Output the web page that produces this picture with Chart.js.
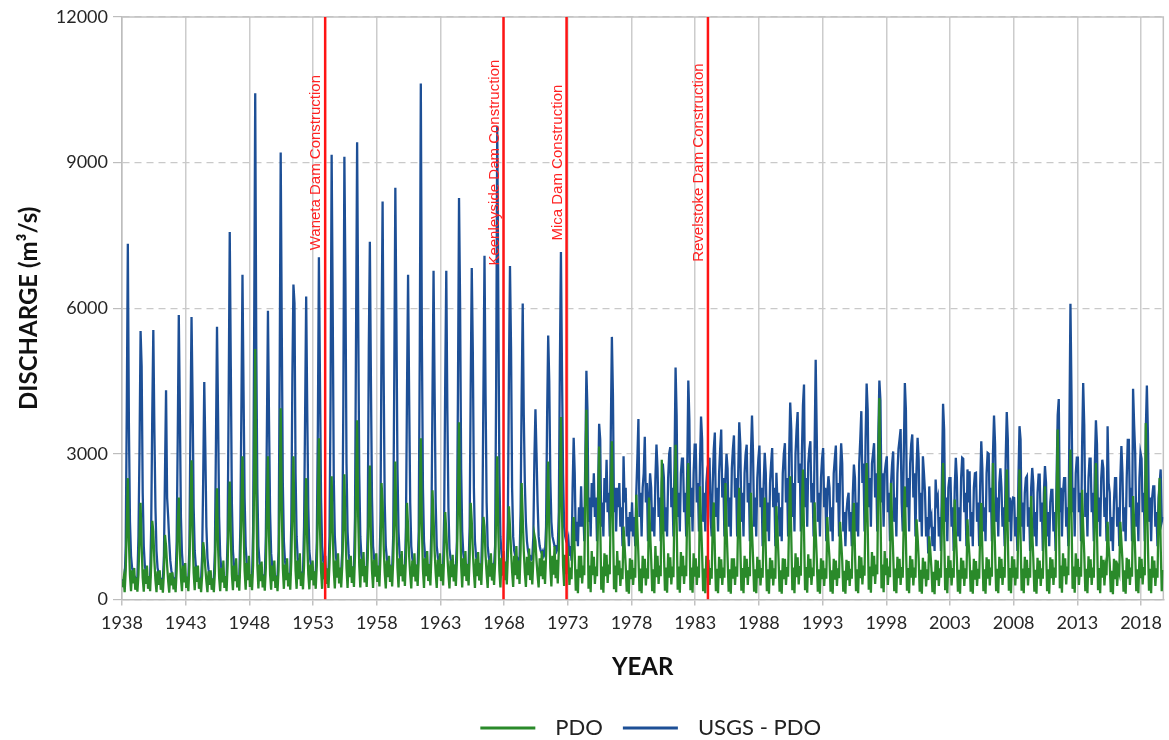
<!DOCTYPE html>
<html>
<head>
<meta charset="utf-8">
<title>Discharge 1938-2019</title>
<script src="https://cdn.jsdelivr.net/npm/chart.js@4.4.1/dist/chart.umd.min.js"></script>
<style>
  html, body { margin: 0; padding: 0; background: #ffffff; }
  #wrap { width: 1169px; height: 740px; }
</style>
</head>
<body>
<div id="wrap"><canvas id="chart" width="1169" height="740"></canvas></div>
<script>
// ---- data -------------------------------------------------------------
const firstYear = 1938;
const seriesLabels = ['PDO', 'USGS - PDO'];
const yearTicks = [1938, 1943, 1948, 1953, 1958, 1963, 1968, 1973, 1978, 1983, 1988, 1993, 1998, 2003, 2008, 2013, 2018];
const dischargeTicks = [0, 3000, 6000, 9000, 12000];
const damYears = [1953.95, 1967.95, 1972.9, 1984.0];
const damLabels = ['Waneta Dam Construction', 'Keenleyside Dam Construction', 'Mica Dam Construction', 'Revelstoke Dam Construction'];

// monthly discharge (m3/s), one row per year, Jan..Dec
const pdoMonthly = [
  [250, 420, 150, 600, 1500, 2500, 1200, 500, 170, 600, 330, 650],   // 1938
  [200, 450, 160, 500, 1300, 1990, 1100, 450, 160, 620, 320, 700],
  [220, 480, 170, 700, 1620, 1400, 800, 400, 150, 580, 300, 600],
  [200, 420, 140, 550, 1330, 1100, 700, 380, 140, 550, 290, 560],
  [210, 430, 150, 600, 1500, 2100, 1000, 450, 170, 700, 350, 750],
  [240, 470, 170, 700, 1800, 2870, 1400, 550, 190, 680, 360, 700],
  [220, 440, 150, 500, 1180, 1000, 650, 380, 150, 580, 300, 600],
  [200, 430, 150, 550, 1500, 2290, 1100, 450, 170, 650, 350, 800],
  [240, 480, 170, 700, 1700, 2430, 1300, 520, 190, 700, 380, 850],
  [250, 500, 180, 800, 1900, 2950, 1500, 600, 200, 750, 400, 900],
  [260, 520, 190, 700, 2500, 5160, 2200, 700, 230, 720, 380, 780],   // 1948
  [250, 500, 180, 650, 1800, 2950, 1300, 520, 200, 700, 380, 800],
  [240, 480, 170, 600, 2000, 3940, 1900, 650, 220, 720, 400, 850],
  [270, 540, 200, 800, 1900, 2950, 1500, 600, 220, 800, 420, 950],
  [280, 550, 210, 700, 1600, 2500, 1200, 520, 210, 720, 400, 800],
  [290, 580, 220, 700, 1800, 3320, 1500, 600, 220, 760, 420, 900],
  [320, 640, 240, 750, 1500, 2540, 1400, 600, 230, 800, 450, 950],
  [330, 660, 250, 700, 1500, 2580, 1500, 650, 240, 820, 460, 900],
  [340, 680, 260, 900, 2200, 3690, 1700, 700, 250, 840, 480, 980],
  [350, 690, 260, 850, 1800, 2760, 1300, 600, 240, 820, 470, 950],
  [360, 700, 270, 900, 2400, 2000, 1100, 550, 230, 800, 460, 900],   // 1958
  [360, 700, 270, 800, 1700, 2840, 1500, 650, 250, 850, 480, 1000],
  [370, 720, 280, 850, 1990, 1500, 900, 520, 230, 800, 470, 950],
  [370, 720, 280, 800, 1800, 3320, 1500, 620, 240, 850, 480, 1000],
  [380, 730, 290, 900, 2250, 1700, 1000, 550, 240, 820, 470, 950],
  [380, 730, 290, 950, 1800, 1400, 900, 520, 230, 800, 460, 920],
  [370, 720, 280, 800, 1900, 3650, 1800, 700, 250, 850, 480, 1000],
  [380, 730, 290, 850, 1990, 1600, 1000, 560, 240, 840, 480, 980],
  [390, 740, 300, 900, 1700, 1500, 900, 530, 240, 820, 470, 950],
  [390, 740, 300, 750, 1800, 2950, 1400, 600, 250, 860, 490, 1000],
  [400, 780, 310, 900, 1920, 1500, 1000, 580, 260, 900, 500, 1100],  // 1968
  [420, 800, 320, 1000, 2400, 1700, 1000, 560, 260, 880, 500, 1050],
  [400, 780, 310, 800, 1330, 1200, 800, 500, 250, 850, 480, 1000],
  [420, 800, 320, 900, 1800, 2840, 1500, 650, 270, 900, 510, 1100],
  [440, 820, 330, 1000, 2200, 3760, 1800, 700, 280, 920, 520, 1100],
  [820, 300, 660, 420, 1300, 1700, 950, 180, 620, 130, 900, 450],    // 1973
  [900, 330, 700, 500, 2300, 3910, 1900, 220, 700, 150, 1000, 500],
  [880, 320, 680, 480, 1800, 3150, 1600, 200, 680, 140, 950, 480],
  [920, 340, 720, 520, 2000, 3260, 1700, 210, 700, 150, 1000, 500],
  [800, 280, 640, 420, 1500, 1100, 700, 160, 600, 120, 850, 420],
  [820, 300, 650, 450, 2160, 1500, 900, 170, 640, 130, 900, 440],    // 1978
  [840, 290, 640, 430, 2100, 1400, 850, 170, 620, 130, 1100, 460],
  [900, 320, 700, 480, 2880, 1800, 1000, 180, 660, 140, 950, 450],
  [870, 310, 680, 460, 2000, 3190, 1600, 200, 680, 140, 980, 480],
  [900, 320, 700, 480, 1900, 2810, 1500, 190, 660, 140, 950, 470],
  [850, 300, 680, 450, 2330, 1600, 950, 170, 640, 130, 900, 450],
  [820, 300, 650, 430, 1600, 2000, 1000, 170, 630, 130, 880, 440],
  [830, 300, 660, 450, 2400, 1500, 850, 160, 620, 120, 850, 430],
  [850, 300, 680, 470, 1700, 2300, 1100, 180, 650, 130, 900, 450],
  [840, 300, 670, 480, 2200, 1400, 850, 160, 620, 130, 880, 440],
  [820, 290, 650, 450, 1600, 2100, 1000, 170, 620, 120, 860, 430],   // 1988
  [810, 290, 640, 430, 1920, 1400, 850, 160, 600, 120, 850, 420],
  [840, 300, 670, 470, 1700, 2540, 1300, 190, 660, 130, 950, 460],
  [870, 310, 690, 490, 1900, 2680, 1400, 190, 670, 140, 930, 450],
  [840, 300, 660, 480, 2000, 1400, 850, 160, 620, 120, 850, 420],
  [800, 280, 640, 430, 1700, 1200, 850, 160, 600, 120, 840, 410],
  [800, 280, 640, 440, 1600, 1200, 800, 160, 590, 120, 820, 400],
  [790, 280, 630, 430, 1500, 1990, 1000, 170, 620, 130, 900, 440],
  [870, 310, 700, 490, 2000, 2810, 1500, 200, 680, 140, 980, 480],
  [900, 320, 720, 520, 2600, 4150, 1900, 230, 720, 150, 1000, 500],
  [850, 300, 680, 460, 2400, 1600, 950, 170, 640, 130, 880, 440],    // 1998
  [840, 300, 670, 450, 1700, 2330, 1200, 180, 650, 130, 900, 450],
  [830, 290, 660, 450, 1650, 1300, 850, 160, 610, 120, 860, 430],
  [780, 270, 620, 400, 1300, 1000, 650, 150, 570, 110, 820, 400],
  [800, 280, 640, 450, 1800, 2810, 1400, 190, 650, 130, 900, 450],
  [810, 290, 650, 450, 2060, 1400, 850, 160, 610, 120, 860, 430],
  [800, 280, 640, 430, 1650, 1200, 850, 160, 600, 120, 840, 410],
  [790, 280, 630, 430, 1400, 1990, 1000, 170, 620, 120, 870, 430],
  [830, 290, 660, 470, 2810, 1800, 1000, 170, 630, 130, 880, 440],
  [840, 300, 670, 450, 1800, 2680, 1300, 180, 650, 130, 890, 450],
  [830, 290, 660, 430, 1700, 2680, 1300, 180, 640, 130, 880, 440],   // 2008
  [820, 290, 650, 450, 2130, 1400, 850, 160, 610, 120, 860, 430],
  [800, 280, 640, 430, 1600, 2330, 1100, 170, 620, 120, 870, 440],
  [830, 300, 660, 450, 2000, 3500, 2000, 230, 700, 140, 950, 480],
  [850, 310, 680, 500, 2200, 3090, 1700, 220, 680, 140, 950, 470],
  [840, 300, 670, 470, 2260, 1500, 950, 170, 630, 130, 890, 450],
  [830, 300, 660, 450, 1800, 2810, 1400, 190, 650, 130, 900, 450],
  [820, 290, 650, 500, 1600, 1100, 750, 150, 590, 110, 840, 420],
  [800, 280, 640, 550, 1600, 1200, 800, 160, 600, 120, 860, 430],
  [830, 300, 660, 470, 2130, 1600, 950, 170, 620, 130, 880, 440],
  [840, 310, 670, 500, 3635, 2200, 1100, 180, 630, 130, 890, 450],   // 2018
  [800, 280, 640, 450, 1800, 2500, 1100, 170, 610]                   // 2019
];

const usgsMinusPdoMonthly = [
  [420, 380, 400, 1100, 3900, 7330, 3600, 1600, 900, 650, 560, 480],       // 1938
  [450, 400, 420, 1300, 3100, 5530, 4800, 2200, 1100, 700, 560, 470],
  [430, 390, 450, 1500, 3800, 5550, 3500, 1900, 1000, 650, 540, 470],
  [420, 380, 410, 900, 2600, 4310, 2100, 1700, 1200, 800, 600, 480],
  [440, 400, 430, 1200, 3300, 5860, 3900, 1700, 950, 650, 540, 460],
  [430, 390, 420, 1100, 3600, 5820, 4100, 1900, 1000, 700, 560, 470],
  [420, 380, 400, 900, 2500, 4480, 3100, 1500, 850, 620, 520, 450],
  [410, 380, 400, 1000, 3200, 5620, 3800, 1700, 900, 650, 540, 460],
  [450, 400, 430, 1300, 4200, 7570, 4800, 2000, 1000, 700, 580, 480],
  [460, 420, 450, 1500, 4000, 6690, 4300, 2100, 1100, 750, 620, 520],
  [480, 430, 460, 1400, 5500, 10430, 5200, 2300, 1100, 780, 640, 540],     // 1948
  [500, 450, 470, 1300, 3500, 5950, 3700, 1800, 950, 700, 600, 520],
  [480, 440, 460, 1000, 4500, 9210, 5600, 2400, 1200, 800, 650, 550],
  [520, 470, 500, 1600, 4600, 6490, 6100, 2600, 1300, 850, 680, 580],
  [560, 500, 520, 1500, 3800, 6240, 3900, 1900, 1000, 780, 650, 570],
  [560, 510, 530, 1200, 3500, 7050, 4500, 2100, 1100, 800, 680, 600],
  [600, 540, 560, 1300, 4200, 9160, 6000, 2500, 1300, 900, 720, 640],
  [620, 560, 580, 1000, 4000, 9120, 6500, 2800, 1400, 950, 760, 660],
  [660, 600, 620, 1700, 5500, 9420, 5900, 2600, 1300, 900, 740, 650],
  [650, 590, 610, 1500, 5200, 7370, 4500, 2100, 1100, 850, 720, 640],
  [660, 600, 630, 1600, 5400, 8200, 4600, 2000, 1100, 850, 720, 650],      // 1958
  [680, 610, 640, 1300, 4600, 8480, 5800, 2700, 1400, 950, 780, 680],
  [680, 620, 650, 1500, 4300, 6690, 4200, 2000, 1100, 850, 740, 670],
  [690, 630, 660, 1400, 5000, 10630, 5400, 2300, 1200, 900, 760, 680],
  [700, 640, 670, 1500, 4200, 6770, 4300, 2000, 1100, 880, 760, 690],
  [700, 640, 670, 1700, 4500, 6770, 3900, 1900, 1050, 850, 740, 680],
  [690, 630, 660, 1200, 4300, 8270, 6100, 2700, 1400, 950, 790, 700],
  [710, 650, 680, 1500, 4400, 6830, 5100, 2300, 1200, 900, 770, 700],
  [720, 650, 690, 1600, 4300, 7080, 4200, 2000, 1100, 880, 760, 700],
  [720, 660, 690, 1100, 4500, 9760, 6200, 2600, 1300, 950, 800, 720],
  [740, 680, 710, 1600, 4600, 6870, 5200, 2300, 1300, 1000, 900, 820],     // 1968
  [850, 780, 800, 1800, 4200, 6100, 3800, 2400, 1600, 1200, 1000, 900],
  [900, 820, 850, 1300, 2900, 3920, 3000, 2000, 1300, 1100, 1000, 950],
  [1000, 900, 950, 1500, 3800, 5440, 4500, 2500, 1600, 1300, 1200, 1100],
  [1100, 1000, 1050, 1800, 4800, 7160, 4700, 2600, 1500, 1300, 1200, 1150],
  [1250, 900, 1100, 800, 2300, 3330, 2600, 1200, 1600, 1100, 1900, 1500],  // 1973
  [2330, 1500, 1900, 1200, 3000, 4710, 3900, 1600, 2100, 1300, 2400, 1900],
  [2600, 1700, 2100, 1200, 2200, 3620, 3300, 1500, 2000, 1300, 2500, 2000],
  [2880, 1800, 2200, 1300, 3500, 5410, 4200, 1800, 2300, 1400, 2300, 1900],
  [2400, 1500, 1900, 1100, 2950, 2000, 2300, 1300, 1700, 1100, 1800, 1400],
  [2000, 1300, 1700, 1100, 2200, 2900, 3720, 1700, 2200, 1300, 2300, 2600], // 1978
  [3350, 2000, 2400, 1200, 2000, 2600, 2300, 1400, 1900, 1300, 2500, 3190],
  [2700, 1700, 2100, 1200, 2400, 2800, 2500, 1400, 1900, 1300, 2500, 3000],
  [3140, 1900, 2300, 1300, 2800, 4780, 3800, 1700, 2200, 1400, 2600, 2900],
  [2900, 1800, 2200, 1300, 2700, 4510, 3700, 1700, 2300, 1400, 2600, 3190],
  [3190, 2000, 2400, 1400, 2800, 3770, 3300, 1600, 2200, 1400, 2400, 2700],
  [2800, 2920, 1700, 1300, 2400, 3100, 3440, 1700, 2300, 1400, 2600, 3100],
  [3500, 2100, 2500, 1300, 2500, 3000, 2700, 1500, 2100, 1300, 2700, 3100],
  [3380, 2100, 2500, 1300, 2600, 3650, 3200, 1600, 2200, 1300, 2600, 3000],
  [3190, 2000, 2400, 1200, 3000, 3790, 3000, 1500, 2100, 1300, 2500, 2900],
  [3170, 1900, 2300, 1100, 2400, 3020, 2600, 1400, 2000, 1200, 2400, 2800], // 1988
  [3120, 1900, 2300, 1100, 2610, 2000, 2200, 1300, 1900, 1200, 2600, 3000],
  [3220, 2000, 2500, 1300, 3000, 4060, 3500, 1700, 2400, 1400, 3000, 3500],
  [3860, 2400, 2800, 1400, 3000, 4000, 4430, 1900, 2500, 1500, 2800, 3100],
  [3260, 2000, 2400, 1300, 3200, 4940, 3400, 1600, 2200, 1300, 2500, 2900],
  [3120, 1900, 2300, 1200, 2200, 2540, 2300, 1400, 1900, 1200, 2600, 2900],
  [3170, 2000, 2400, 1300, 2600, 3220, 2800, 1400, 1800, 1100, 1800, 2060],
  [2200, 1400, 1800, 1100, 2200, 2780, 2500, 1400, 2000, 1300, 2800, 3300],
  [3880, 2400, 2800, 1400, 3300, 4450, 3900, 1900, 2500, 1500, 2800, 3000],
  [3220, 2100, 2600, 1400, 3400, 4510, 4100, 2000, 2600, 1500, 2600, 2800],
  [2950, 1800, 2200, 1200, 2400, 2800, 3050, 1600, 2100, 1300, 2600, 3100], // 1998
  [3300, 3510, 2000, 1400, 3000, 4460, 3900, 1900, 2500, 1400, 2800, 3200],
  [3400, 2100, 2600, 1300, 2700, 3330, 2900, 1600, 2200, 1300, 2950, 2600],
  [2200, 1300, 1700, 950, 2330, 1600, 1700, 1100, 1500, 1000, 2470, 2000],
  [2100, 1300, 1700, 1000, 2600, 4030, 3500, 1600, 2100, 1200, 2300, 2500],
  [2500, 1500, 1900, 1000, 2300, 2920, 2500, 1300, 1900, 1200, 2500, 2920],
  [2900, 1800, 2200, 1100, 2680, 2000, 2640, 1300, 1800, 1100, 2300, 2600],
  [2610, 1600, 2000, 1100, 2400, 3260, 2700, 1400, 1900, 1200, 2600, 3020],
  [3000, 1800, 2300, 1200, 3000, 3790, 3200, 1600, 2100, 1300, 2400, 2700],
  [2300, 1500, 1900, 1100, 2900, 3860, 3300, 1600, 2100, 1200, 2000, 2100],
  [2090, 1300, 1700, 1000, 2500, 3570, 3300, 1500, 2000, 1200, 2200, 2500], // 2008
  [2540, 1500, 1900, 1000, 2300, 2710, 2400, 1300, 1800, 1100, 2200, 2570],
  [2570, 1600, 2000, 1000, 2200, 2750, 2400, 1300, 1800, 1100, 2000, 2260],
  [2260, 1400, 1800, 1000, 2600, 3800, 4130, 1800, 2300, 1300, 2200, 2500],
  [2500, 1500, 1900, 1100, 3500, 6090, 4200, 1800, 2300, 1300, 2600, 2920],
  [2920, 1800, 2200, 1200, 3200, 4460, 3600, 1700, 2200, 1300, 2500, 2900],
  [2900, 1800, 2200, 1200, 2800, 3690, 3200, 1600, 2100, 1300, 2500, 2880],
  [2700, 1700, 2100, 1200, 3570, 2400, 2200, 1200, 1700, 1000, 2000, 2500],
  [2500, 1500, 1900, 1100, 2500, 3160, 2600, 1400, 1900, 1200, 2500, 3290],
  [3290, 1900, 2300, 1200, 4340, 3600, 3000, 1500, 2000, 1200, 2500, 3020],
  [2900, 1800, 2200, 1200, 3500, 4410, 3400, 1600, 2100, 1200, 2100, 2330], // 2018
  [2330, 1500, 1800, 1100, 2100, 2400, 2680, 1600, 1700]                    // 2019
];

// ---- helpers ----------------------------------------------------------
// place each monthly value at the middle of its month on a decimal-year axis
function monthlyPoints(rows) {
  const pts = [];
  rows.forEach((row, i) => {
    row.forEach((v, m) => pts.push({ x: firstYear + i + (m + 0.5) / 12, y: v }));
  });
  return pts;
}

const AXIS_FONT = 'Lato, "Open Sans", "DejaVu Sans", sans-serif';
const GREEN = '#2a8a2a';
const BLUE = '#1d4f96';
const RED = '#ff1414';

// top and right edges of the plot box
const plotFrame = {
  id: 'plotFrame',
  beforeDatasetsDraw(chart) {
    const { ctx, chartArea: a } = chart;
    ctx.save();
    ctx.strokeStyle = '#c2c2c2';
    ctx.lineWidth = 1.5;
    ctx.beginPath();
    ctx.moveTo(a.left, a.top);
    ctx.lineTo(a.right, a.top);
    ctx.lineTo(a.right, a.bottom);
    ctx.stroke();
    ctx.restore();
  }
};

// vertical captions beside the dam lines
const damCaptions = {
  id: 'damCaptions',
  afterDatasetsDraw(chart) {
    const { ctx, scales: { x, y } } = chart;
    ctx.save();
    ctx.font = '15px "Liberation Sans", Arial, sans-serif';
    ctx.fillStyle = '#ff2222';
    ctx.textAlign = 'center';
    ctx.textBaseline = 'alphabetic';
    damYears.forEach((yr, i) => {
      const px = x.getPixelForValue(yr);
      const py = y.getPixelForValue(9000);
      ctx.save();
      ctx.translate(px - 5, py);
      ctx.rotate(-Math.PI / 2);
      ctx.fillText(damLabels[i], 0, 0);
      ctx.restore();
    });
    ctx.restore();
  }
};

// legend row under the axis title: line sample, then series name
const seriesLegend = {
  id: 'seriesLegend',
  afterDraw(chart) {
    const { ctx, chartArea: a } = chart;
    const sample = 55, gap = 20, rowY = 728;
    ctx.save();
    ctx.font = '22px ' + AXIS_FONT;
    ctx.textBaseline = 'middle';
    ctx.textAlign = 'left';
    const items = [0, 1].map(i => ({
      text: chart.data.datasets[i].label,
      color: chart.data.datasets[i].borderColor,
      width: ctx.measureText(chart.data.datasets[i].label).width
    }));
    const total = items.reduce((s, it) => s + sample + gap + it.width, 0) + gap * (items.length - 1);
    let x = (a.left + a.right) / 2 - total / 2 + 8;
    items.forEach(it => {
      ctx.fillStyle = it.color;
      ctx.fillRect(x, rowY - 1.5, sample, 3);
      x += sample + gap;
      ctx.fillStyle = '#222222';
      ctx.fillText(it.text, x, rowY);
      x += it.width + gap;
    });
    ctx.restore();
  }
};

const damDatasets = damYears.map((yr, i) => ({
  label: damLabels[i],
  data: [{ x: yr, y: 0 }, { x: yr, y: 12000 }],
  borderColor: RED,
  backgroundColor: RED,
  borderWidth: 2.5,
  pointRadius: 0,
  order: -1
}));

new Chart(document.getElementById('chart'), {
  type: 'line',
  data: {
    datasets: [
      {
        label: seriesLabels[0],
        data: monthlyPoints(pdoMonthly),
        borderColor: GREEN,
        backgroundColor: GREEN,
        borderWidth: 2.3,
        pointRadius: 0,
        tension: 0,
        order: 0
      },
      {
        label: seriesLabels[1],
        data: monthlyPoints(usgsMinusPdoMonthly),
        borderColor: BLUE,
        backgroundColor: BLUE,
        borderWidth: 2.3,
        pointRadius: 0,
        tension: 0,
        order: 1
      },
      ...damDatasets
    ]
  },
  options: {
    responsive: false,
    animation: false,
    devicePixelRatio: 1,
    parsing: false,
    normalized: true,
    layout: { padding: { top: 17, right: 4, left: 0, bottom: 45.5 } },
    plugins: {
      tooltip: { enabled: false },
      legend: { display: false }
    },
    scales: {
      x: {
        type: 'linear',
        min: 1938,
        max: 2019.75,
        afterBuildTicks(scale) { scale.ticks = yearTicks.map(v => ({ value: v })); },
        afterFit(scale) { scale.height = 95; },
        ticks: {
          font: { family: AXIS_FONT, size: 18 },
          color: '#262626',
          padding: 7,
          maxRotation: 0,
          autoSkip: false,
          callback: v => String(v)
        },
        grid: { color: '#cccccc', lineWidth: 1.5, tickLength: 6, tickColor: '#c2c2c2' },
        border: { display: true, color: '#bdbdbd', width: 1.5 },
        title: {
          display: true,
          text: 'YEAR',
          font: { family: AXIS_FONT, size: 24, weight: 'bold' },
          color: '#111111',
          padding: { top: 0, bottom: 12.5 }
        }
      },
      y: {
        min: 0,
        max: 12000,
        afterBuildTicks(scale) { scale.ticks = dischargeTicks.map(v => ({ value: v })); },
        afterFit(scale) { scale.width = 122; },
        ticks: {
          font: { family: AXIS_FONT, size: 18 },
          color: '#262626',
          padding: 5,
          callback: v => String(v)
        },
        grid: { color: '#c9c9c9', lineWidth: 1.2, tickLength: 9, tickColor: '#bdbdbd', tickBorderDash: [] },
        border: { display: true, color: '#bdbdbd', width: 1.5, dash: [7, 5] },
        title: {
          display: true,
          text: 'DISCHARGE (m³/s)',
          font: { family: AXIS_FONT, size: 24, weight: 'bold' },
          color: '#111111',
          padding: { top: 15, bottom: 0 }
        }
      }
    }
  },
  plugins: [plotFrame, damCaptions, seriesLegend]
});
</script>
</body>
</html>
